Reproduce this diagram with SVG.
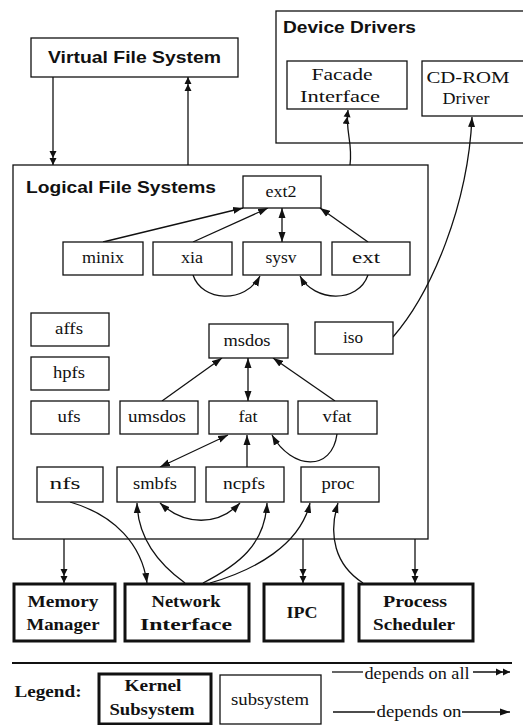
<svg xmlns="http://www.w3.org/2000/svg" width="523" height="725" viewBox="0 0 523 725">
<defs>
<marker id="a1" markerUnits="userSpaceOnUse" markerWidth="12" markerHeight="8" refX="10" refY="4" orient="auto-start-reverse"><path d="M0,0.5 L10,4 L0,7.5 z" fill="#111"/></marker>
<marker id="a2" markerUnits="userSpaceOnUse" markerWidth="16" markerHeight="8" refX="14" refY="4" orient="auto-start-reverse"><path d="M0,0.5 L7,4 L0,7.5 z M7,0.5 L14,4 L7,7.5 z" fill="#111"/></marker>
<style>
.box{fill:#fff;stroke:#111;stroke-width:1.3}
.cont{fill:none;stroke:#111;stroke-width:1.3}
.kern{fill:#fff;stroke:#111;stroke-width:3}
.t{font-family:"Liberation Serif","Times New Roman",serif;font-size:16px;fill:#111;text-anchor:middle}
.k{font-family:"Liberation Serif","Times New Roman",serif;font-size:17px;font-weight:bold;fill:#111;text-anchor:middle}
.h{font-family:"Liberation Sans",Arial,sans-serif;font-size:17px;font-weight:bold;fill:#111}
.c{fill:none;stroke:#111;stroke-width:1.3}
.s{marker-end:url(#a1)}
.d{marker-end:url(#a2)}
.b{marker-start:url(#a1);marker-end:url(#a1)}
</style>
</defs>
<rect width="523" height="725" fill="#fff"/>

<g id="device-drivers">
<rect class="cont" x="276" y="11" width="250" height="132"/>
<text class="h" x="283" y="33" textLength="133" lengthAdjust="spacingAndGlyphs">Device Drivers</text>
</g>
<g id="logical-file-systems">
<rect class="cont" x="13" y="165" width="415" height="374"/>
<text class="h" x="26" y="193" textLength="190" lengthAdjust="spacingAndGlyphs">Logical File Systems</text>
</g>

<g id="connectors">
<path class="c d" d="M53,77 L53,165"/>
<path class="c d" d="M188,165 L188,77"/>
<path class="c d" d="M350,165 C353,142 345,132 348,110"/>
<path class="c s" d="M393,337 C432,292 468,205 472,117"/>
<path class="c s" d="M103,242 L243,208"/>
<path class="c s" d="M193,242 L268,208"/>
<path class="c b" d="M282,242 L282,208"/>
<path class="c s" d="M368,242 L320,208"/>
<path class="c s" d="M193,275 C202,302 245,304 260,276"/>
<path class="c s" d="M368,275 C358,304 314,302 300,276"/>
<path class="c s" d="M162,401 L222,358"/>
<path class="c b" d="M248,401 L248,358"/>
<path class="c s" d="M335,401 L273,358"/>
<path class="c b" d="M160,467 L228,435"/>
<path class="c s" d="M247,467 L247,435"/>
<path class="c s" d="M337,434 C332,472 292,470 272,435"/>
<path class="c d" d="M64,539 L64,583"/>
<path class="c d" d="M303,539 L303,583"/>
<path class="c d" d="M415,539 L415,583"/>
<path class="c s" d="M70,502 C115,515 142,545 147,583"/>
<path class="c s" d="M185,583 C160,565 138,540 137,503"/>
<path class="c b" d="M160,503 C185,526 218,526 240,503"/>
<path class="c s" d="M203,583 C238,565 265,545 267,503"/>
<path class="c s" d="M210,583 C255,570 300,545 310,503"/>
<path class="c s" d="M363,583 C335,565 328,535 338,503"/>
</g>

<g id="vfs"><rect class="box" x="31" y="38" width="207" height="39"/><text class="h" x="48" y="63" textLength="173" lengthAdjust="spacingAndGlyphs">Virtual File System</text></g>
<g id="facade"><rect class="box" x="287" y="61" width="120" height="48"/><text class="t" x="342" y="80" textLength="61" lengthAdjust="spacingAndGlyphs">Facade</text><text class="t" x="340" y="102" textLength="80" lengthAdjust="spacingAndGlyphs">Interface</text></g>
<g id="cdrom"><rect class="box" x="422" y="61" width="104" height="55"/><text class="t" x="468" y="83" textLength="83" lengthAdjust="spacingAndGlyphs">CD-ROM</text><text class="t" x="466" y="104" textLength="47" lengthAdjust="spacingAndGlyphs">Driver</text></g>

<g id="ext2"><rect class="box" x="243" y="176" width="78" height="32"/><text class="t" x="281" y="197" textLength="31" lengthAdjust="spacingAndGlyphs">ext2</text></g>
<g id="minix"><rect class="box" x="63" y="242" width="80" height="33"/><text class="t" x="103" y="263" textLength="42" lengthAdjust="spacingAndGlyphs">minix</text></g>
<g id="xia"><rect class="box" x="153" y="242" width="79" height="33"/><text class="t" x="192" y="263" textLength="22" lengthAdjust="spacingAndGlyphs">xia</text></g>
<g id="sysv"><rect class="box" x="243" y="242" width="78" height="33"/><text class="t" x="281" y="263" textLength="31" lengthAdjust="spacingAndGlyphs">sysv</text></g>
<g id="ext"><rect class="box" x="332" y="242" width="78" height="33"/><text class="t" x="366" y="263" textLength="28" lengthAdjust="spacingAndGlyphs">ext</text></g>

<g id="affs"><rect class="box" x="31" y="313" width="78" height="33"/><text class="t" x="69" y="334" textLength="28" lengthAdjust="spacingAndGlyphs">affs</text></g>
<g id="hpfs"><rect class="box" x="31" y="357" width="78" height="33"/><text class="t" x="69" y="378" textLength="32" lengthAdjust="spacingAndGlyphs">hpfs</text></g>
<g id="ufs"><rect class="box" x="31" y="401" width="78" height="33"/><text class="t" x="69" y="422" textLength="23" lengthAdjust="spacingAndGlyphs">ufs</text></g>
<g id="msdos"><rect class="box" x="209" y="324" width="79" height="34"/><text class="t" x="247" y="346" textLength="47" lengthAdjust="spacingAndGlyphs">msdos</text></g>
<g id="iso"><rect class="box" x="315" y="322" width="78" height="32"/><text class="t" x="353" y="343" textLength="20" lengthAdjust="spacingAndGlyphs">iso</text></g>
<g id="umsdos"><rect class="box" x="120" y="401" width="78" height="33"/><text class="t" x="157" y="422" textLength="58" lengthAdjust="spacingAndGlyphs">umsdos</text></g>
<g id="fat"><rect class="box" x="209" y="401" width="79" height="33"/><text class="t" x="248" y="422" textLength="19" lengthAdjust="spacingAndGlyphs">fat</text></g>
<g id="vfat"><rect class="box" x="298" y="401" width="79" height="33"/><text class="t" x="337" y="422" textLength="29" lengthAdjust="spacingAndGlyphs">vfat</text></g>

<g id="nfs"><rect class="box" x="37" y="467" width="66" height="35"/><text class="t" x="65" y="489" textLength="31" lengthAdjust="spacingAndGlyphs">nfs</text></g>
<g id="smbfs"><rect class="box" x="117" y="467" width="78" height="35"/><text class="t" x="155" y="489" textLength="44" lengthAdjust="spacingAndGlyphs">smbfs</text></g>
<g id="ncpfs"><rect class="box" x="206" y="467" width="78" height="35"/><text class="t" x="244" y="489" textLength="42" lengthAdjust="spacingAndGlyphs">ncpfs</text></g>
<g id="proc"><rect class="box" x="301" y="467" width="78" height="35"/><text class="t" x="338" y="489" textLength="33" lengthAdjust="spacingAndGlyphs">proc</text></g>

<g id="memory-manager"><rect class="kern" x="14" y="584" width="101" height="57"/><text class="k" x="63" y="607" textLength="71" lengthAdjust="spacingAndGlyphs">Memory</text><text class="k" x="63" y="630" textLength="73" lengthAdjust="spacingAndGlyphs">Manager</text></g>
<g id="network-interface"><rect class="kern" x="125" y="584" width="124" height="57"/><text class="k" x="186" y="607" textLength="69" lengthAdjust="spacingAndGlyphs">Network</text><text class="k" x="186" y="630" textLength="92" lengthAdjust="spacingAndGlyphs">Interface</text></g>
<g id="ipc"><rect class="kern" x="264" y="584" width="79" height="57"/><text class="k" x="302" y="618" textLength="31" lengthAdjust="spacingAndGlyphs">IPC</text></g>
<g id="process-scheduler"><rect class="kern" x="359" y="584" width="114" height="57"/><text class="k" x="415" y="607" textLength="64" lengthAdjust="spacingAndGlyphs">Process</text><text class="k" x="414" y="630" textLength="82" lengthAdjust="spacingAndGlyphs">Scheduler</text></g>

<g id="legend">
<line x1="12" y1="663" x2="512" y2="663" stroke="#111" stroke-width="2"/>
<text class="k" x="48" y="697" font-size="16" textLength="67" lengthAdjust="spacingAndGlyphs">Legend:</text>
<rect class="kern" x="99" y="674" width="112" height="50"/>
<text class="k" x="153" y="691" font-size="16" textLength="57" lengthAdjust="spacingAndGlyphs">Kernel</text>
<text class="k" x="152" y="715" font-size="16" textLength="85" lengthAdjust="spacingAndGlyphs">Subsystem</text>
<rect class="box" x="220" y="675" width="101" height="49"/>
<text class="t" x="270" y="705" textLength="78" lengthAdjust="spacingAndGlyphs">subsystem</text>
<line class="c" x1="332" y1="672" x2="363" y2="672"/>
<text class="t" x="417" y="679" textLength="105" lengthAdjust="spacingAndGlyphs">depends on all</text>
<line class="c d" x1="473" y1="672" x2="510" y2="672"/>
<line class="c" x1="333" y1="712" x2="375" y2="712"/>
<text class="t" x="419" y="717" textLength="85" lengthAdjust="spacingAndGlyphs">depends on</text>
<line class="c s" x1="462" y1="712" x2="510" y2="712"/>
</g>
</svg>
